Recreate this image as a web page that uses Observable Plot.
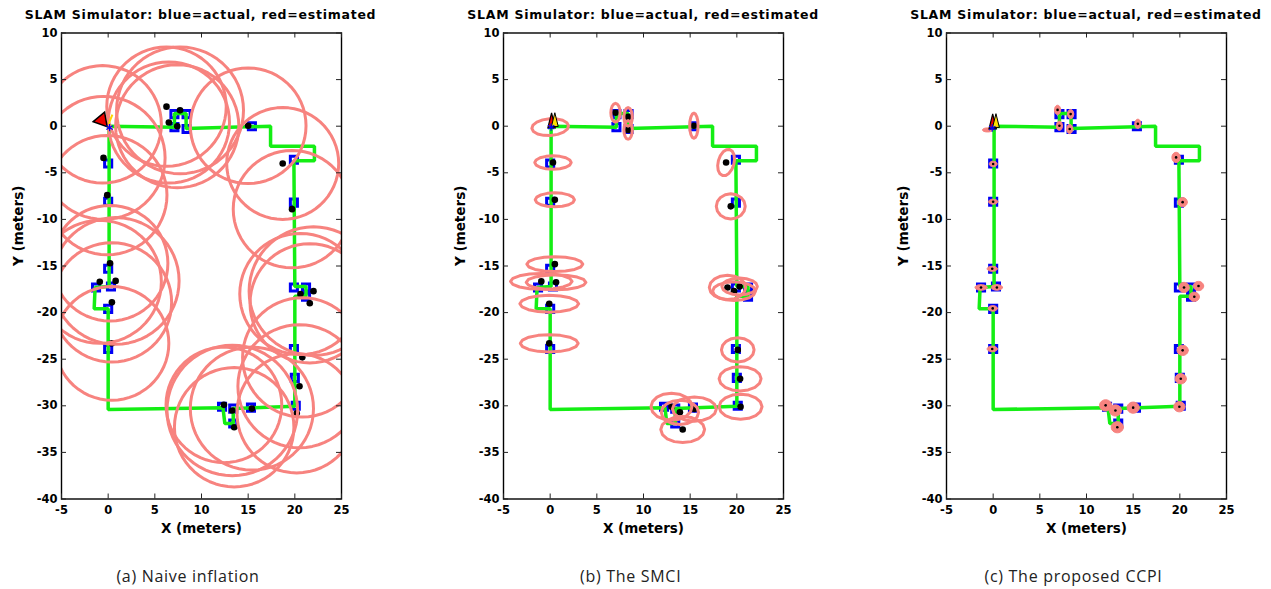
<!DOCTYPE html>
<html>
<head>
<meta charset="utf-8">
<script src="https://cdn.jsdelivr.net/npm/d3@7"></script>
<script src="https://cdn.jsdelivr.net/npm/@observablehq/plot@0.6"></script>
<style>
  body { margin: 0; background: #fff; }
  #fig { position: relative; width: 1271px; height: 589px; overflow: hidden; background: #fff; }
  .panel { position: absolute; top: 0; }
  .title { position: absolute; top: 6px; width: 440px; text-align: center; white-space: nowrap;
           font: bold 12.5px "DejaVu Sans", sans-serif; letter-spacing: 0.75px; line-height: 18px; color: #000; }
  .cap { position: absolute; top: 565px; width: 300px; text-align: center; white-space: nowrap;
         font: 16px "Open Sans", Lato, sans-serif; letter-spacing: 0.7px; line-height: 22px; color: #222; }
</style>
</head>
<body>
<div id="fig"></div>
<script>
// ---- axes ----
const xTicks = [-5, 0, 5, 10, 15, 20, 25];
const yTicks = [-40, -35, -30, -25, -20, -15, -10, -5, 0, 5, 10];
const titles = ["SLAM Simulator: blue=actual, red=estimated",
                "SLAM Simulator: blue=actual, red=estimated",
                "SLAM Simulator: blue=actual, red=estimated"];
const captions = ["(a) Naive inflation", "(b) The SMCI", "(c) The proposed CCPI"];

// ---- true robot trajectory (green) ----
const pathX = [0, 7.1, 7.1, 8.35, 8.35, 17.4, 17.4, 22.1, 22.1, 19.9, 20.0, 21.2, 21.2, 20.0, 20.0, 13.4, 13.4, 12.5, 12.3, 0.0, 0.0, -1.5, -1.4, 0.1, 0.1];
const pathY = [0, -0.1, 1.35, 1.35, -0.25, 0.0, -2.15, -2.15, -3.7, -3.7, -17.2, -17.2, -18.25, -18.25, -30.05, -30.3, -31.9, -31.9, -30.2, -30.4, -19.6, -19.6, -17.3, -17.2, 0];

// ---- actual landmark positions (blue squares) ----
const landmarkX = [7.1, 8.4, 7.1, 8.4, 15.4, 0.0, 0.0, 0.0, -1.3, 0.3, 0.0, 0.0, 19.9, 19.9, 19.9, 21.2, 21.2, 19.9, 20.0, 20.1, 12.2, 13.4, 13.4, 15.3];
const landmarkY = [1.3, 1.3, -0.1, -0.3, 0.0, -4.0, -8.1, -15.3, -17.3, -17.2, -19.6, -23.9, -3.6, -8.2, -17.3, -17.3, -18.3, -23.9, -27.0, -30.0, -30.1, -30.3, -31.9, -30.2];

// ---- (a) naive inflation: estimates and circle radii ----
const naiveX = [6.25, 7.7, 6.5, 7.4, 15.0, -0.5, -0.1, 18.7, 19.7, 0.2, -0.9, 0.8, 20.6, 22.0, 21.6, 0.4, 0.4, 20.8, 20.5, 20.2, 12.4, 13.3, 13.5, 15.4];
const naiveY = [2.1, 1.7, 0.4, 0.0, 0.05, -3.4, -7.4, -4.0, -8.9, -14.7, -16.7, -16.6, -18.0, -17.7, -19.0, -18.9, -23.3, -24.8, -27.9, -30.8, -29.9, -30.5, -32.3, -30.3];
const naiveR = [6.4, 6.8, 6.5, 6.6, 6.2, 6.6, 6.4, 6.0, 6.3, 6.2, 6.6, 6.8, 6.5, 6.9, 6.4, 6.4, 6.1, 6.4, 6.6, 6.4, 6.2, 7.0, 6.4, 6.6];

// ---- (b) SMCI: estimates and ellipse semi-axes ----
const smciX = [0.3, 0.5, 0.5, -0.95, 0.63, -0.1, -0.1, 7.0, 8.35, 8.35, 15.4, 18.85, 19.35, 19.0, 20.3, 19.7, 20.1, 20.35, 20.4, 13.0, 15.45, 14.2, 13.9];
const smciY = [-3.9, -7.9, -14.8, -16.65, -16.75, -19.05, -23.3, 1.45, 1.0, -0.4, 0.05, -3.9, -8.6, -17.3, -17.2, -17.7, -24.0, -27.1, -30.1, -30.1, -30.35, -32.55, -30.7];
const smciRx = [1.95, 2.1, 3.0, 3.3, 3.2, 3.15, 3.1, 0.5, 0.45, 0.45, 0.45, 0.85, 1.55, 1.95, 1.9, 2.3, 1.75, 2.25, 2.3, 2.2, 2.35, 2.35, 2.0];
const smciRy = [0.72, 0.75, 0.8, 0.85, 0.8, 0.9, 0.93, 1.0, 1.0, 1.0, 1.35, 1.45, 1.35, 1.3, 0.9, 1.0, 1.3, 1.3, 1.35, 1.45, 1.3, 1.4, 1.3];
const smciAngle = [0, 0, 0, 0, 0, 0, 0, 0, 0, 0, 0, -15, 0, 0, 0, 0, 0, 0, 0, 0, 0, 0, 0];

// ---- (c) proposed CCPI: estimates and ellipse semi-axes ----
const ccpiX = [0.0, 0.0, -0.1, -1.3, 0.4, -0.05, -0.1, 6.9, 8.3, 7.1, 8.2, 15.5, 19.6, 20.3, 20.45, 22.0, 21.55, 20.3, 20.1, 19.95, 12.05, 13.1, 13.3, 15.0];
const ccpiY = [-4.05, -8.1, -15.3, -17.3, -17.3, -19.55, -23.9, 1.75, 1.3, 0.05, -0.3, 0.25, -3.35, -8.15, -17.3, -17.15, -18.3, -24.05, -27.1, -30.1, -29.95, -30.5, -32.3, -30.2];
const ccpiRx = [0.42, 0.5, 0.55, 0.65, 0.6, 0.5, 0.55, 0.33, 0.33, 0.33, 0.33, 0.33, 0.45, 0.5, 0.55, 0.55, 0.55, 0.6, 0.6, 0.6, 0.65, 0.65, 0.65, 0.65];
const ccpiRy = [0.3, 0.27, 0.27, 0.3, 0.3, 0.3, 0.3, 0.5, 0.5, 0.5, 0.5, 0.5, 0.55, 0.5, 0.55, 0.5, 0.5, 0.55, 0.55, 0.55, 0.6, 0.6, 0.6, 0.6];

// ---- robot pose and its covariance in each run ----
const robotCovX = [-0.6, 0.0, -0.6];
const robotCovY = [0.2, -0.1, -0.4];
const robotCovRx = [6.3, 1.97, 0.55];
const robotCovRy = [6.3, 0.9, 0.22];
const robotX = [-0.7, 0.4, 0.2];
const robotY = [0.65, 0.4, 0.3];

// ---- styling ----
const GREEN = "#14ee14";
const PINK = "#f7837f";
const BLUE = "#0000f5";

const W = 400, H = 545, ML = 60, MR = 60, MT = 32.5, MB = 46.5;
const FW = W - ML - MR, FH = H - MT - MB;
const panelLeft = [0.5, 443.2, 886];

const path = pathX.map((x, i) => ({x, y: pathY[i]}));
const landmarks = landmarkX.map((x, i) => ({x, y: landmarkY[i]}));

// polygon outline of an ellipse given its centre, semi-axes and rotation
function outline(id, cx, cy, rx, ry, angleDeg, n) {
  const a = angleDeg * Math.PI / 180, pts = [];
  for (let k = 0; k <= n; ++k) {
    const t = 2 * Math.PI * k / n;
    const ex = rx * Math.cos(t), ey = ry * Math.sin(t);
    pts.push({id, x: cx + ex * Math.cos(a) - ey * Math.sin(a), y: cy + ex * Math.sin(a) + ey * Math.cos(a)});
  }
  return pts;
}

// narrow robot triangle pointing up
const robotSymbol = {
  draw(context, size) {
    const r = Math.sqrt(size / Math.PI);
    context.moveTo(0, -1.6 * r);
    context.lineTo(0.62 * r, 0.9 * r);
    context.lineTo(-0.62 * r, 0.9 * r);
    context.closePath();
  }
};

function panel(i, est, ellipses, opts) {
  const robot = [{x: robotX[i], y: robotY[i]}];
  const marks = [
    Plot.dot(landmarks, {x: "x", y: "y", symbol: "square", r: 4, stroke: BLUE, strokeWidth: 3, fill: "none"}),
    Plot.line(path, {x: "x", y: "y", stroke: GREEN, strokeWidth: 3.5, strokeLinejoin: "miter"})
  ];
  if (opts.filled) {
    marks.push(Plot.line(ellipses, {x: "x", y: "y", z: "id", fill: PINK, stroke: PINK, strokeWidth: 1, clip: true}));
    marks.push(Plot.dot(est, {x: "x", y: "y", r: opts.dotR, fill: "black"}));
  } else {
    marks.push(Plot.dot(est, {x: "x", y: "y", r: opts.dotR, fill: "black"}));
    marks.push(Plot.line(ellipses, {x: "x", y: "y", z: "id", stroke: PINK, strokeWidth: 3, strokeLinejoin: "round", clip: true}));
  }
  // robot marker
  if (i === 0) {
    marks.push(
      Plot.link(robot, {x1: d => d.x + 0.75, y1: d => d.y - 0.4, x2: d => d.x + 1.15, y2: d => d.y + 0.6, stroke: "#ffd400", strokeWidth: 2}),
      Plot.dot(robot, {x: "x", y: "y", symbol: "triangle", r: 5.5, rotate: -100, fill: "#ee0000", stroke: "black", strokeWidth: 1.5}),
      Plot.dot(robot, {x: d => d.x + 0.85, y: d => d.y - 0.8, symbol: "asterisk", r: 3.5, stroke: BLUE, strokeWidth: 1.2})
    );
  } else {
    marks.push(
      Plot.dot(robot, {x: d => d.x - 0.25, y: "y", symbol: robotSymbol, r: 6, fill: "#ee0000", stroke: "black", strokeWidth: 1.2}),
      Plot.dot(robot, {x: d => d.x + 0.1, y: d => d.y + 0.1, symbol: robotSymbol, r: 5.5, fill: "#ffe000", stroke: "black", strokeWidth: 1}),
      Plot.dot(robot, {x: d => d.x - 0.3, y: d => d.y - 0.5, symbol: "asterisk", r: 3.5, stroke: BLUE, strokeWidth: 1.2})
    );
  }
  marks.push(
    Plot.frame({stroke: "black", strokeWidth: 1.4}),
    // inward ticks on all four sides
    Plot.tickX(xTicks, {x: d => d, insetTop: FH - 5, stroke: "#222", strokeWidth: 1}),
    Plot.tickX(xTicks, {x: d => d, insetBottom: FH - 5, stroke: "#222", strokeWidth: 1}),
    Plot.tickY(yTicks, {y: d => d, insetRight: FW - 5, stroke: "#222", strokeWidth: 1}),
    Plot.tickY(yTicks, {y: d => d, insetLeft: FW - 5, stroke: "#222", strokeWidth: 1}),
    Plot.axisX({ticks: xTicks, anchor: "bottom", tickSize: 0, tickPadding: 7, tickFormat: d => String(d), label: null}),
    Plot.axisY({ticks: yTicks, anchor: "left", tickSize: 0, tickPadding: 4, tickFormat: d => String(d), label: null}),
    Plot.text(["X (meters)"], {text: d => d, frameAnchor: "bottom", dy: 30, lineAnchor: "middle", fontSize: 13.5, fontWeight: "bold"}),
    Plot.text(["Y (meters)"], {text: d => d, frameAnchor: "left", dx: -43, rotate: -90, lineAnchor: "middle", fontSize: 13.5, fontWeight: "bold"})
  );
  return Plot.plot({
    width: W, height: H,
    marginLeft: ML, marginRight: MR, marginTop: MT, marginBottom: MB,
    x: {domain: [-5, 25]},
    y: {domain: [-40, 10]},
    style: {fontFamily: "'DejaVu Sans', sans-serif", fontSize: "11.5px", fontWeight: "bold", color: "black", background: "transparent", overflow: "visible"},
    marks
  });
}

// ellipse outlines for each run
const naiveEll = [outline("robot", robotCovX[0], robotCovY[0], robotCovRx[0], robotCovRy[0], 0, 60)]
  .concat(naiveX.map((x, i) => outline(i, x, naiveY[i], naiveR[i], naiveR[i], 0, 60))).flat();
const smciEll = [outline("robot", robotCovX[1], robotCovY[1], robotCovRx[1], robotCovRy[1], 4, 16)]
  .concat(smciX.map((x, i) => outline(i, x, smciY[i], smciRx[i], smciRy[i], smciAngle[i], 16))).flat();
const ccpiEll = [outline("robot", robotCovX[2], robotCovY[2], robotCovRx[2], robotCovRy[2], 0, 24)]
  .concat(ccpiX.map((x, i) => outline(i, x, ccpiY[i], ccpiRx[i], ccpiRy[i], 0, 24))).flat();

const runs = [
  {est: naiveX.map((x, i) => ({x, y: naiveY[i]})), ell: naiveEll, opts: {dotR: 3.3, filled: false}},
  {est: smciX.map((x, i) => ({x, y: smciY[i]})), ell: smciEll, opts: {dotR: 3.3, filled: false}},
  {est: ccpiX.map((x, i) => ({x, y: ccpiY[i]})), ell: ccpiEll, opts: {dotR: 1.3, filled: true}}
];

const fig = document.getElementById("fig");
runs.forEach((run, i) => {
  const svg = panel(i, run.est, run.ell, run.opts);
  svg.classList.add("panel");
  svg.style.left = panelLeft[i] + "px";
  svg.style.position = "absolute";
  svg.style.top = "0px";
  fig.appendChild(svg);

  const centre = panelLeft[i] + ML + FW / 2;
  const t = document.createElement("div");
  t.className = "title";
  t.textContent = titles[i];
  t.style.left = (centre - 220) + "px";
  fig.appendChild(t);

  const c = document.createElement("div");
  c.className = "cap";
  c.textContent = captions[i];
  c.style.left = (centre - 12.5 - 150) + "px";
  fig.appendChild(c);
});
</script>
</body>
</html>
